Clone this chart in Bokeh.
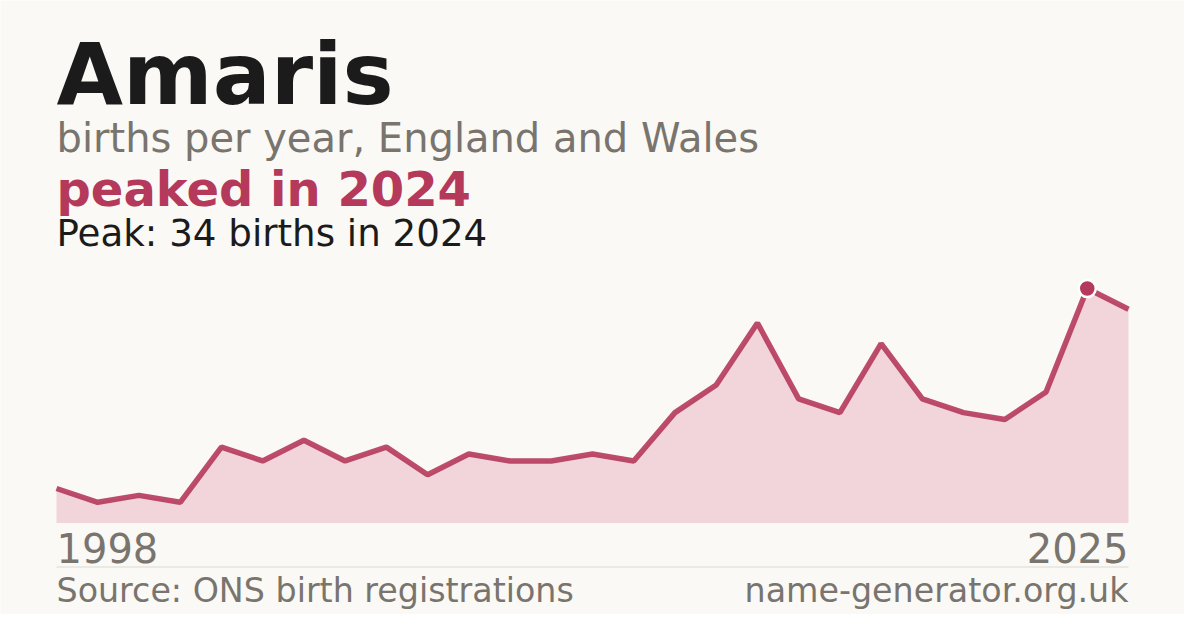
from bokeh.plotting import figure
from bokeh.models import Label, BoxAnnotation, Range1d
from bokeh.embed import file_html
from bokeh.resources import INLINE

# ---- data ----
name = "Amaris"
subtitle = "births per year, England and Wales"
headline = "peaked in 2024"
peak_note = "Peak: 34 births in 2024"
tick_labels = ["1998", "2025"]
births = [5, 3, 4, 3, 11, 9, 12, 9, 11, 7, 10, 9, 9, 10, 9, 16, 20, 29, 18, 16,
          26, 18, 16, 15, 19, 34, 31]
source_text = "Source: ONS birth registrations"
site_text = "name-generator.org.uk"

# ---- style / layout ----
BG = "#faf9f5"
INK = "#1b1b1b"
GREY = "#79746d"
RED = "#b5395a"
FILL = "#f1d5db"
FONT = "DejaVu Sans"

W, H = 1184, 614
LEFT, RIGHT = 56, 1128      # chart area, px from left
BASE_Y, TOP_Y = 91.5, 326   # px from bottom for 0 and the maximum

n = len(births)
xs = list(range(n))
ymax = max(births)
peak_idx = births.index(ymax)
ppx = (RIGHT - LEFT) / (n - 1)
ppy = (TOP_Y - BASE_Y) / ymax

p = figure(width=W, height=H, output_backend="svg", toolbar_location=None,
           x_range=Range1d(-LEFT / ppx, (n - 1) + (W - RIGHT) / ppx),
           y_range=Range1d(-BASE_Y / ppy, (H - BASE_Y) / ppy),
           x_axis_location=None, y_axis_location=None, min_border=0)
p.grid.visible = False
p.outline_line_color = None
p.background_fill_color = BG
p.border_fill_color = BG

p.varea(x=xs, y1=[0] * n, y2=births, fill_color=FILL)
p.line(xs, births, line_width=5.5, line_color=RED, line_alpha=0.9)
p.scatter([xs[peak_idx]], [ymax], size=17, fill_color=RED,
          line_color="white", line_width=2.5)

# separator line under tick labels
p.add_layout(BoxAnnotation(left=0, right=n - 1, bottom=47, top=48,
                           bottom_units="screen", top_units="screen",
                           fill_color="#dcd9d2", fill_alpha=1, line_alpha=0))

SHIFT = 0.37  # baseline correction, fraction of font size


def lab(text, x, y, size, color, bold=False, align="left"):
    p.add_layout(Label(x=x, y=y + SHIFT * size, x_units="screen", y_units="screen",
                       text=text, text_font=FONT, text_font_size=f"{size}px",
                       text_font_style="bold" if bold else "normal",
                       text_color=color, text_align=align,
                       text_baseline="alphabetic"))


lab(name, LEFT, 509, 86, INK, bold=True)
lab(subtitle, LEFT, 462, 40, GREY)
lab(headline, LEFT, 408, 48, RED, bold=True)
lab(peak_note, LEFT, 368, 37.2, INK)
lab(tick_labels[0], LEFT, 52, 40, GREY)
lab(tick_labels[1], RIGHT, 52, 40, GREY, align="right")
lab(source_text, LEFT, 12, 33.3, GREY)
lab(site_text, RIGHT, 12, 33.3, GREY, align="right")

open("out.html", "w").write(file_html(p, INLINE))
